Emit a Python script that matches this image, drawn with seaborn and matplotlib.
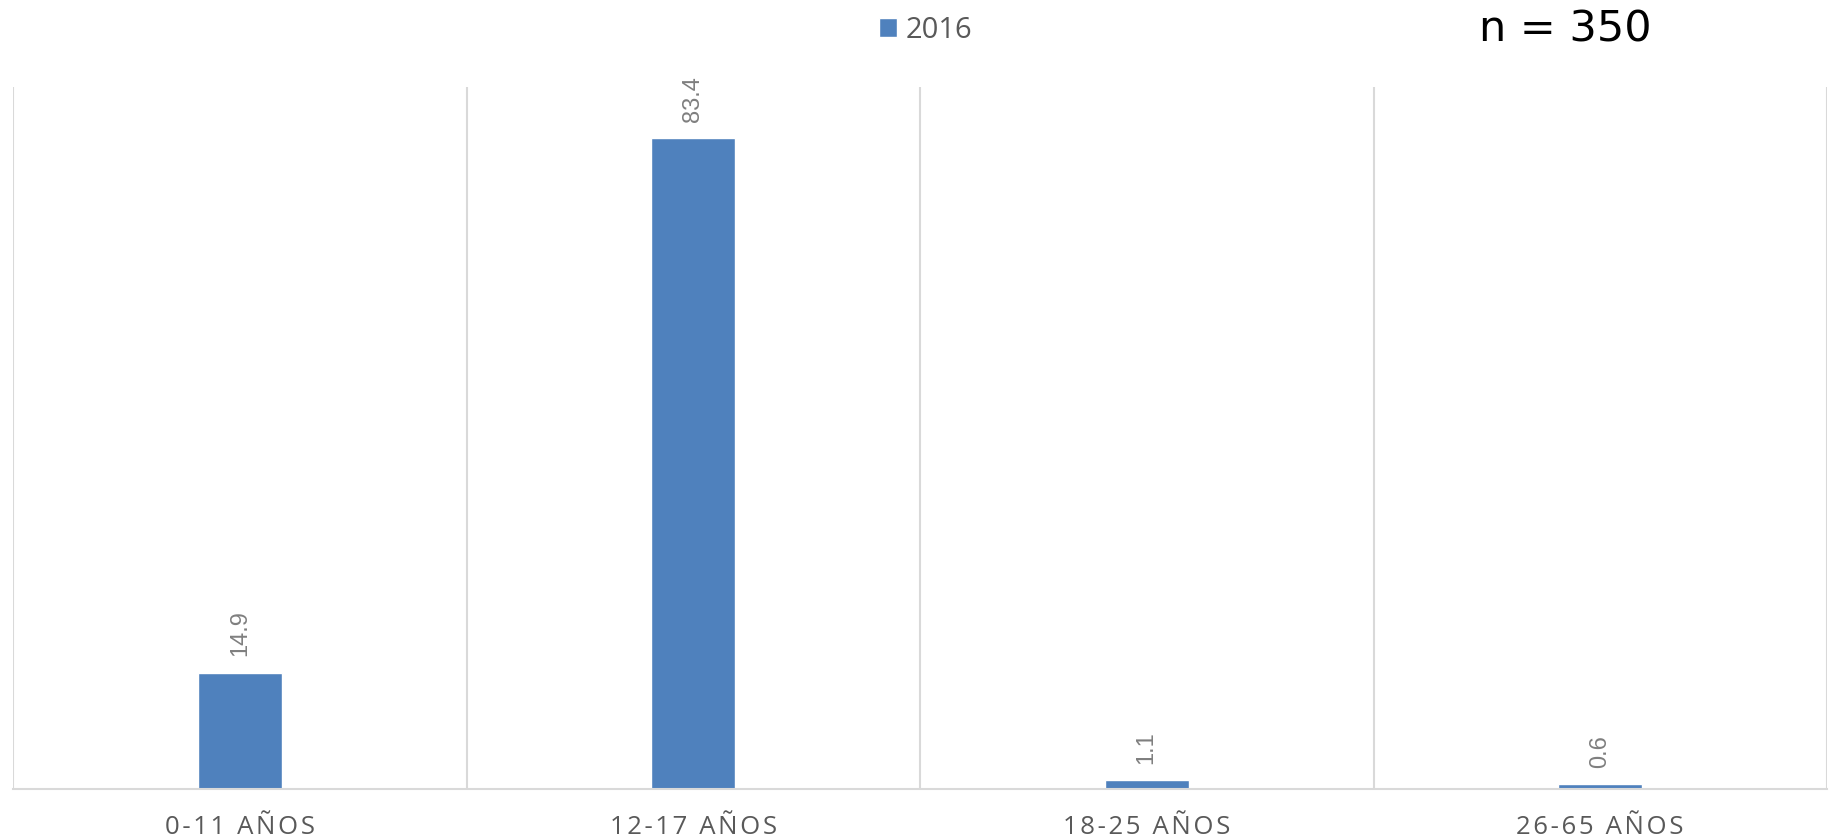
import pandas as pd
import matplotlib.pyplot as plt
import seaborn as sns

# Datos
grupos = ["0-11 AÑOS", "12-17 AÑOS", "18-25 AÑOS", "26-65 AÑOS"]
porcentajes = [14.9, 83.4, 1.1, 0.6]
serie = "2016"

df = pd.DataFrame({"Grupo": grupos, "Porcentaje": porcentajes})

sns.set_theme(style="white")
plt.rcParams["font.family"] = ["Open Sans", "DejaVu Sans"]

fig = plt.figure(figsize=(18.29, 8.4), dpi=100)
ax = fig.add_axes([13 / 1829, 51 / 840, 1814 / 1829, 702 / 840])

sns.barplot(data=df, x="Grupo", y="Porcentaje", color="#4F81BD", width=0.185,
            saturation=1, label=serie, legend=False, ax=ax)
if ax.get_legend() is not None:
    ax.get_legend().remove()

ax.set_xlim(-0.5, len(grupos) - 0.5)
ax.set_ylim(0, 90)
ax.set_xlabel("")
ax.set_ylabel("")
ax.set_yticks([])

# lineas verticales entre categorias
for i in range(len(grupos) + 1):
    ax.axvline(i - 0.5, color="#D9D9D9", lw=1.5, zorder=0)
for s in ["top", "left", "right"]:
    ax.spines[s].set_visible(False)
ax.spines["bottom"].set_color("#D9D9D9")
ax.spines["bottom"].set_linewidth(1.5)

# etiquetas del eje x con espaciado entre letras
espaciadas = ["\u200a".join(g) for g in grupos]
ax.set_xticks(range(len(grupos)))
ax.set_xticklabels(espaciadas, fontsize=18.5, color="#595959")
ax.tick_params(axis="x", length=0, pad=19)

# etiquetas de valores
for i, v in enumerate(porcentajes):
    ax.annotate(f"{v}", (i, v), xytext=(0, 12), textcoords="offset points",
                rotation=90, ha="center", va="bottom", fontsize=17,
                color="#7F7F7F", family="Liberation Sans")

handles, labels = ax.get_legend_handles_labels()
fig.legend(handles[:1], [serie], loc="center", bbox_to_anchor=(926 / 1829, 1 - 30 / 840),
           frameon=False, fontsize=21, handlelength=0.62, handleheight=0.62,
           handletextpad=0.3, labelcolor="#595959")

fig.text(1565 / 1829, 1 - 29 / 840, "n = 350", ha="center", va="center",
         fontsize=31, color="black", family="DejaVu Sans")

fig.savefig("out.png", dpi=100)
